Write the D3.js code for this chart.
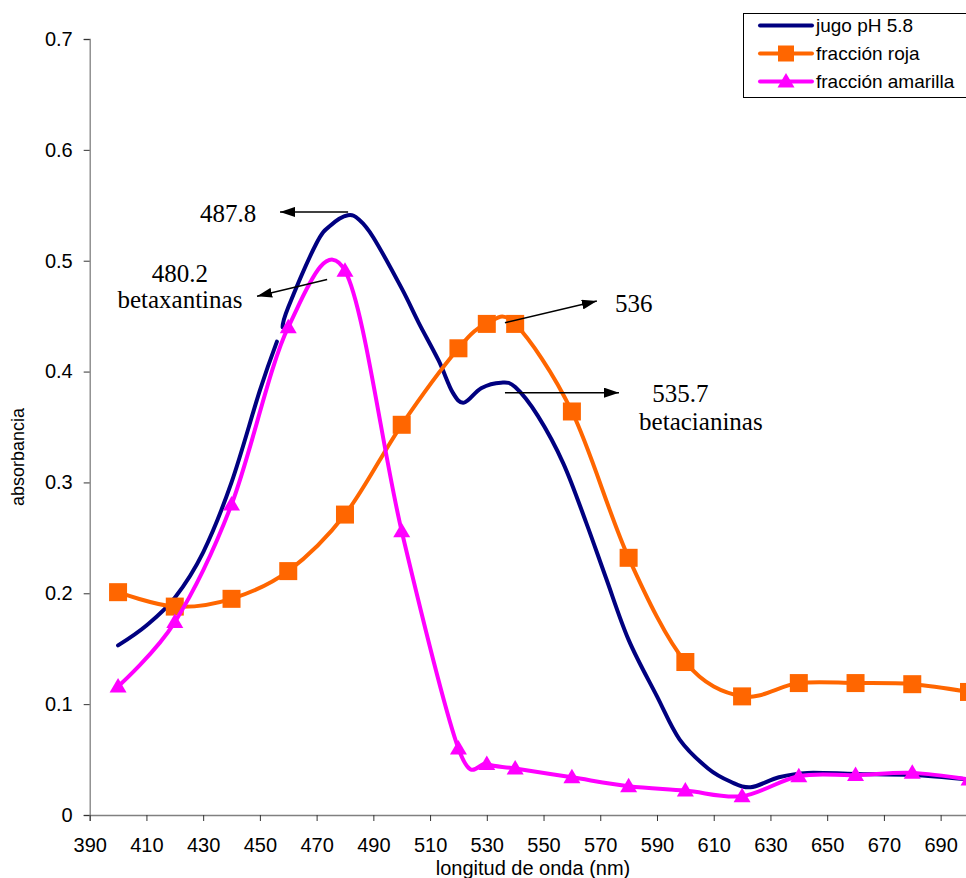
<!DOCTYPE html>
<html>
<head>
<meta charset="utf-8">
<script src="https://cdn.jsdelivr.net/npm/d3@7"></script>
<style>
  body { margin: 0; background: #fff; }
  svg { display: block; font-family: "Liberation Sans", Arial, sans-serif; }
</style>
</head>
<body>
<div id="chart"></div>
<script>
// markers every 20 nm (plus 530)
const wavelengths = [400, 420, 440, 460, 480, 500, 520, 530, 540, 560, 580, 600, 620, 640, 660, 680, 700];
const fraccionRoja = [0.201, 0.188, 0.195, 0.220, 0.271, 0.352, 0.421, 0.443, 0.443, 0.364, 0.232, 0.138, 0.107, 0.119, 0.119, 0.118, 0.111];
const fraccionAmarilla = [0.116, 0.174, 0.280, 0.440, 0.491, 0.256, 0.060, 0.046, 0.042, 0.034, 0.026, 0.022, 0.017, 0.035, 0.036, 0.038, 0.032];

// juice spectrum, no markers (null = break in the trace)
const jugoNm = [400, 410, 420, 430, 440, 450, 456, 457, 458, 460, 470, 475, 481, 485, 490, 500, 506, 513, 518, 522, 528, 535, 540, 548, 557, 565, 572, 580, 590, 598, 608, 616, 623, 633, 643, 660, 680, 700];
const jugoAbs = [0.153, 0.171, 0.196, 0.237, 0.300, 0.383, 0.427, null, 0.440, 0.458, 0.516, 0.532, 0.541, 0.537, 0.521, 0.475, 0.444, 0.410, 0.381, 0.372, 0.385, 0.390, 0.386, 0.360, 0.317, 0.264, 0.214, 0.158, 0.107, 0.068, 0.042, 0.030, 0.025, 0.034, 0.038, 0.037, 0.036, 0.032];

const xTicks = d3.range(390, 700, 20);
const yTicks = [0, 0.1, 0.2, 0.3, 0.4, 0.5, 0.6, 0.7];

const seriesNames = ["jugo pH 5.8", "fracción roja", "fracción amarilla"];
const seriesColors = ["#000080", "#FF6600", "#FF00FF"];

// annotations in data units
const notes = [
  { lines: ["487.8"], x: 428.9, y: 0.535, anchor: "start" },
  { lines: ["480.2", "betaxantinas"], x: 421.8, y: 0.481, anchor: "middle" },
  { lines: ["536"], x: 575.2, y: 0.4537, anchor: "start" },
  { lines: ["535.7"], x: 588.3, y: 0.3725, anchor: "start" },
  { lines: ["betacianinas"], x: 583.7, y: 0.3473, anchor: "start" }
];
const arrows = [
  { x1: 481.1, y1: 0.544, x2: 457.1, y2: 0.544 },
  { x1: 473.7, y1: 0.483, x2: 449.0, y2: 0.468 },
  { x1: 536.4, y1: 0.444, x2: 568.8, y2: 0.4636 },
  { x1: 536.4, y1: 0.381, x2: 576.6, y2: 0.381 }
];

const width = 966, height = 878;
const svg = d3.select("#chart").append("svg")
  .attr("width", width).attr("height", height);

const x = d3.scaleLinear().domain([390, 700]).range([89.7, 969]);
const y = d3.scaleLinear().domain([0, 0.7]).range([815, 39]);

// axes
const yAxis = svg.append("g")
  .attr("transform", `translate(${x(390)},0)`)
  .call(d3.axisLeft(y).tickValues(yTicks).tickFormat(d3.format("")).tickSize(6).tickPadding(11));
const xAxis = svg.append("g")
  .attr("transform", `translate(0,${y(0)})`)
  .call(d3.axisBottom(x).tickValues(xTicks).tickSize(6).tickPadding(17));
[xAxis, yAxis].forEach(g => {
  g.select(".domain").attr("stroke", "#808080").attr("stroke-width", 1.3);
  g.selectAll(".tick line").attr("stroke", "#333");
  g.selectAll("text").attr("font-size", 20).attr("fill", "#000")
    .style("font-family", "Liberation Sans, Arial, sans-serif");
});

svg.append("text")
  .attr("x", 533).attr("y", 875)
  .attr("text-anchor", "middle")
  .attr("font-size", 20)
  .text("longitud de onda (nm)");
svg.append("text")
  .attr("transform", "translate(24,457) rotate(-90)")
  .attr("text-anchor", "middle")
  .attr("font-size", 18)
  .text("absorbancia");

// lines
const line = d3.line()
  .defined(d => d[1] != null)
  .x(d => x(d[0])).y(d => y(d[1]))
  .curve(d3.curveCardinal.tension(0));

const jugo = jugoNm.map((n, i) => [n, jugoAbs[i]]);
const roja = wavelengths.map((n, i) => [n, fraccionRoja[i]]);
const amarilla = wavelengths.map((n, i) => [n, fraccionAmarilla[i]]);

const tri = "M0,-8.5L8.5,6L-8.5,6Z";

svg.append("path").datum(jugo)
  .attr("d", line).attr("fill", "none")
  .attr("stroke", seriesColors[0]).attr("stroke-width", 4).attr("stroke-linecap", "round");

svg.append("path").datum(roja)
  .attr("d", line).attr("fill", "none")
  .attr("stroke", seriesColors[1]).attr("stroke-width", 4);
svg.selectAll(".sq").data(roja).enter().append("rect")
  .attr("x", d => x(d[0]) - 9).attr("y", d => y(d[1]) - 9)
  .attr("width", 18).attr("height", 18)
  .attr("fill", seriesColors[1]);

svg.append("path").datum(amarilla)
  .attr("d", line).attr("fill", "none")
  .attr("stroke", seriesColors[2]).attr("stroke-width", 4);
svg.selectAll(".tri").data(amarilla).enter().append("path")
  .attr("d", tri)
  .attr("transform", d => `translate(${x(d[0])},${y(d[1])})`)
  .attr("fill", seriesColors[2]);

// annotations
svg.append("defs").append("marker")
  .attr("id", "head").attr("viewBox", "0 0 10 10")
  .attr("refX", 10).attr("refY", 5)
  .attr("markerWidth", 15).attr("markerHeight", 10)
  .attr("markerUnits", "userSpaceOnUse")
  .attr("preserveAspectRatio", "none")
  .attr("orient", "auto")
  .append("path").attr("d", "M0,0L10,5L0,10Z").attr("fill", "#000");

svg.selectAll(".arrow").data(arrows).enter().append("line")
  .attr("x1", d => x(d.x1)).attr("y1", d => y(d.y1))
  .attr("x2", d => x(d.x2)).attr("y2", d => y(d.y2))
  .attr("stroke", "#000").attr("stroke-width", 1.5)
  .attr("marker-end", "url(#head)");

notes.forEach(n => {
  const t = svg.append("text")
    .attr("x", x(n.x)).attr("y", y(n.y))
    .attr("text-anchor", n.anchor)
    .style("font-family", "'Liberation Serif', 'Times New Roman', serif")
    .attr("font-size", 25);
  n.lines.forEach((s, i) => {
    t.append("tspan").attr("x", x(n.x)).attr("dy", i === 0 ? 0 : 26).text(s);
  });
});

// legend
const legend = svg.append("g").attr("transform", "translate(743,13)");
legend.append("rect")
  .attr("x", 0.5).attr("y", 0.5).attr("width", 240).attr("height", 84)
  .attr("fill", "#fff").attr("stroke", "#000").attr("stroke-width", 1);
seriesNames.forEach((name, i) => {
  const ly = 12.5 + i * 28;
  const g = legend.append("g").attr("transform", `translate(0,${ly})`);
  g.append("line").attr("x1", 17).attr("x2", 69).attr("y1", 0).attr("y2", 0)
    .attr("stroke", seriesColors[i]).attr("stroke-width", 4).attr("stroke-linecap", "round");
  if (i === 1) {
    g.append("rect").attr("x", 43 - 8).attr("y", -8).attr("width", 16).attr("height", 16)
      .attr("fill", seriesColors[i]);
  } else if (i === 2) {
    g.append("path").attr("d", tri).attr("transform", "translate(43,0)").attr("fill", seriesColors[i]);
  }
  g.append("text").attr("x", 73).attr("y", 0).attr("dy", "0.35em")
    .attr("font-size", 19).text(name);
});
</script>
</body>
</html>
